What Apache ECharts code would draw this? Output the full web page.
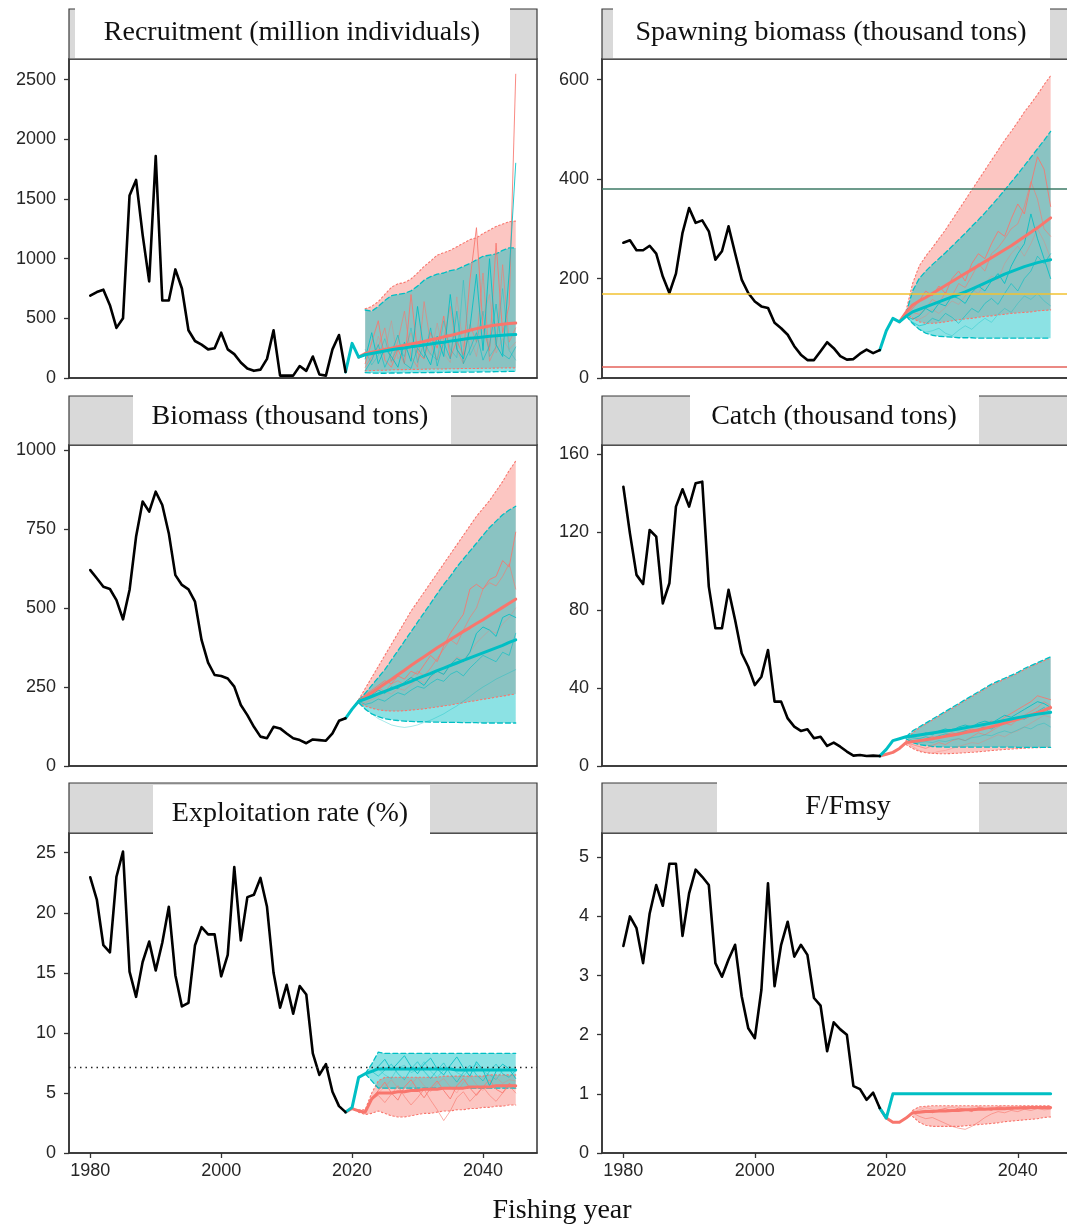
<!DOCTYPE html>
<html>
<head>
<meta charset="utf-8">
<script src="https://cdn.jsdelivr.net/npm/echarts@6/dist/echarts.min.js"></script>
<style>
html, body { margin: 0; padding: 0; background: #fff; }
#chart { width: 1067px; height: 1229px; }
</style>
</head>
<body>
<div id="chart"></div>
<script>
// ---------------- data ----------------
const histStart = 1980;
const xTicks = [1980, 2000, 2020, 2040];

// Recruitment (million individuals)
const recTicks = [0, 500, 1000, 1500, 2000, 2500];
const recHist = [690, 720, 740, 610, 420, 500, 1530, 1660, 1200, 810,
                 1860, 650, 650, 910, 750, 400, 310, 280, 240, 250,
                 380, 240, 200, 130, 80, 60, 70, 160, 400, 20,
                 20, 20, 100, 60, 180, 30, 20, 240, 360, 50];
const recTealMed = [50, 290, 175, 195, 205, 215, 226, 236, 245, 252, 261, 268, 277, 285, 293, 300, 309, 317, 325, 333, 338, 344, 350, 355, 358, 362, 364]; // 2019-
const recRedMed = [175, 205, 216, 226, 240, 250, 262, 274, 285, 296, 306, 320, 331, 345, 356, 370, 385, 400, 414, 425, 435, 444, 450, 456, 460]; // 2021-
const recRedHi = [580, 600, 640, 700, 760, 790, 800, 830, 880, 935, 980, 1030, 1050, 1070, 1100, 1130, 1160, 1175, 1210, 1240, 1270, 1290, 1310, 1315]; // 2022-
const recRedLo = [60, 62, 65, 65, 68, 70, 70, 72, 72, 74, 75, 75, 76, 78, 78, 80, 80, 80, 82, 82, 83, 84, 85, 85];
const recTealHi = [570, 560, 600, 650, 690, 700, 710, 730, 770, 820, 850, 870, 880, 900, 910, 935, 960, 990, 1020, 1030, 1040, 1070, 1090, 1090];
const recTealLo = [45, 42, 40, 40, 42, 42, 43, 44, 45, 45, 46, 46, 47, 48, 48, 49, 50, 50, 52, 52, 53, 54, 55, 55];
const recRedRuns = [
  [120, 300, 480, 150, 90, 240, 120, 700, 210, 160, 380, 250, 520, 170, 310, 190, 820, 1260, 420, 230, 1130, 380, 610, 2546],
  [90, 180, 260, 420, 130, 310, 560, 180, 90, 640, 290, 150, 330, 600, 240, 120, 450, 300, 880, 140, 260, 950, 300, 420],
  [200, 140, 350, 220, 480, 160, 230, 380, 150, 270, 190, 460, 210, 130, 680, 260, 350, 180, 520, 700, 210, 330, 240, 300]
];
const recTealRuns = [
  [160, 380, 120, 250, 180, 90, 300, 140, 600, 220, 110, 350, 180, 700, 240, 160, 420, 870, 230, 1000, 280, 180, 880, 1800],
  [60, 150, 280, 90, 210, 360, 120, 80, 250, 170, 420, 100, 300, 160, 560, 120, 240, 380, 150, 270, 620, 200, 160, 260],
  [240, 110, 190, 330, 140, 260, 180, 420, 130, 300, 200, 150, 480, 240, 170, 820, 190, 300, 560, 180, 260, 750, 230, 150]
];

// Spawning biomass (thousand tons)
const ssbTicks = [0, 200, 400, 600];
const ssbHist = [272, 277, 257, 257, 266, 250, 204, 171, 210, 292,
                 342, 312, 317, 295, 238, 255, 305, 251, 198, 171,
                 154, 144, 141, 111, 100, 87, 64, 47, 36, 36,
                 54, 72, 60, 44, 37, 38, 49, 57, 50, 56];
const ssbTealMed = [56, 95, 120, 113, 124, 133, 138, 143, 148, 153, 158, 163, 168, 173, 179, 185, 191, 197, 203, 209, 214, 219, 224, 228, 232, 235, 238]; // 2019-
const ssbRedMed = [113, 132, 147, 155, 162, 170, 178, 186, 194, 202, 210, 218, 226, 234, 242, 250, 258, 266, 275, 284, 293, 302, 312, 322]; // 2022-
const ssbRedHi = [135, 190, 225, 245, 262, 280, 298, 318, 338, 358, 378, 398, 418, 438, 458, 478, 496, 515, 535, 552, 570, 590, 608]; // 2023-
const ssbRedLo = [130, 120, 113, 110, 110, 111, 113, 115, 117, 119, 120, 122, 124, 125, 127, 128, 130, 131, 132, 133, 135, 136, 137];
const ssbTealHi = [130, 175, 200, 215, 228, 240, 252, 265, 278, 291, 305, 318, 332, 347, 362, 378, 394, 410, 427, 444, 461, 478, 496];
const ssbTealLo = [125, 110, 98, 90, 86, 84, 83, 82, 81, 81, 81, 80, 80, 80, 80, 80, 80, 80, 80, 80, 80, 80, 80];
const ssbRedRuns = [
  [125, 140, 155, 175, 165, 185, 170, 200, 215, 195, 230, 250, 240, 270, 295, 285, 320, 350, 330, 390, 445, 420, 345],
  [125, 132, 128, 140, 158, 150, 172, 165, 190, 182, 205, 230, 215, 250, 262, 280, 300, 310, 345, 395, 360, 300, 285],
  [125, 120, 118, 125, 138, 130, 142, 155, 148, 165, 178, 170, 190, 205, 198, 230, 250, 265, 245, 270, 300, 275, 240]
];
const ssbTealRuns = [
  [125, 118, 125, 140, 132, 150, 145, 165, 160, 150, 172, 185, 175, 195, 210, 190, 225, 250, 270, 330, 280, 240, 200],
  [125, 112, 105, 108, 120, 115, 130, 122, 110, 125, 140, 132, 150, 160, 148, 170, 190, 175, 200, 215, 245, 230, 250],
  [125, 108, 98, 92, 95, 100, 90, 85, 96, 105, 98, 110, 120, 112, 128, 140, 132, 150, 165, 158, 170, 155, 145]
];
const ssbRefLines = [380, 170, 23];

// Biomass (thousand tons)
const bioTicks = [0, 250, 500, 750, 1000];
const bioHist = [620, 594, 567, 560, 525, 464, 557, 726, 837, 805,
                 868, 826, 736, 604, 573, 559, 520, 399, 327, 288,
                 285, 277, 251, 193, 161, 124, 93, 88, 124, 119,
                 103, 88, 82, 72, 84, 82, 80, 103, 143, 151];
const bioTealMed = [151, 180, 205, 212, 220, 228, 236, 244, 252, 260, 268, 277, 285, 293, 302, 310, 318, 326, 334, 342, 350, 358, 366, 374, 382, 391, 399]; // 2019-
const bioRedMed = [205, 218, 232, 246, 260, 274, 289, 303, 318, 332, 346, 360, 374, 387, 400, 413, 426, 438, 451, 463, 476, 489, 502, 515, 528]; // 2021-
const bioRedHi = [210, 245, 280, 315, 350, 385, 420, 455, 490, 520, 550, 580, 610, 640, 670, 700, 730, 760, 790, 815, 840, 870, 900, 935, 965]; // 2021-
const bioRedLo = [200, 190, 183, 178, 175, 174, 174, 175, 177, 179, 181, 184, 187, 190, 193, 197, 200, 204, 207, 211, 214, 218, 221, 225, 228];
const bioTealHi = [208, 230, 255, 280, 305, 335, 365, 395, 425, 455, 485, 515, 545, 575, 600, 630, 655, 680, 705, 730, 755, 775, 795, 810, 822];
const bioTealLo = [200, 180, 165, 156, 150, 146, 144, 142, 141, 140, 140, 139, 139, 138, 138, 138, 137, 137, 137, 136, 136, 136, 136, 136, 136];
const bioRedRuns = [
  [205, 225, 240, 255, 270, 260, 285, 275, 300, 290, 320, 350, 330, 380, 420, 450, 480, 560, 575, 560, 590, 600, 650, 630, 740],
  [205, 215, 230, 248, 235, 260, 270, 255, 280, 300, 285, 310, 340, 370, 400, 385, 430, 470, 500, 560, 580, 570, 600, 640, 560],
  [205, 200, 210, 220, 235, 228, 245, 240, 258, 275, 262, 280, 300, 290, 320, 345, 335, 360, 390, 410, 430, 420, 450, 470, 500]
];
const bioTealRuns = [
  [205, 210, 225, 240, 230, 250, 245, 265, 280, 270, 255, 285, 300, 290, 320, 340, 330, 360, 420, 440, 430, 410, 470, 480, 470],
  [205, 195, 200, 212, 205, 220, 232, 225, 240, 252, 246, 262, 275, 268, 290, 300, 285, 310, 330, 350, 340, 330, 360, 350, 420],
  [205, 182, 165, 150, 140, 130, 125, 122, 125, 130, 138, 145, 155, 165, 178, 190, 205, 220, 236, 250, 262, 275, 285, 295, 305]
];

// Catch (thousand tons)
const catTicks = [0, 40, 80, 120, 160];
const catHist = [143.2, 119.3, 98, 93.3, 121, 117.6, 83.4, 93.7, 133, 141.9,
                 133, 145, 145.8, 92, 70.6, 70.6, 90.3, 74.9, 57.8, 50.9,
                 41.5, 45.8, 59.5, 33, 33, 24.4, 20.2, 18, 18.8, 14.2,
                 15, 10.3, 12, 9.9, 7.4, 5.3, 5.6, 5.1, 5.3, 5.1];
const catTealMed = [5.1, 8.5, 13, 14, 15, 15.4, 15.9, 16.4, 16.9, 17.4, 17.9, 18.4, 19, 19.6, 20.2, 20.8, 21.4, 22, 22.7, 23.4, 24.1, 24.8, 25.4, 26, 26.6, 27.1, 27.5]; // 2019-
const catRedMed = [5.1, 6, 7, 9, 12, 12.5, 13, 13.5, 14, 14.6, 15.2, 15.8, 16.4, 17.1, 17.8, 18.5, 19.3, 20.1, 21, 22, 23, 24, 25, 26.2, 27.4, 28.6, 30]; // 2019-
const catTealHi = [15, 18, 20, 22, 24, 26, 28, 30, 32, 34, 36, 38, 40, 42, 43.5, 45, 46.5, 48, 50, 51.5, 53, 54.5, 56]; // 2023-
const catTealLo = [14, 12, 11, 10.5, 10, 9.8, 9.7, 9.7, 9.7, 9.7, 9.7, 9.7, 9.7, 9.7, 9.7, 9.7, 9.7, 9.6, 9.6, 9.6, 9.6, 9.6, 9.6];
const catRedHi = [13, 17, 19.5, 21.5, 23.5, 25.5, 27.5, 29.5, 31.5, 33.5, 35.5, 37.5, 39.5, 41.5, 43, 44.5, 46, 47.5, 49.5, 51, 52.5, 54, 55.5];
const catRedLo = [11, 9, 7.5, 6.8, 6.5, 6.3, 6.3, 6.4, 6.6, 6.8, 7, 7.3, 7.6, 7.9, 8.2, 8.5, 8.7, 8.9, 9.1, 9.3, 9.4, 9.5, 9.6];
const catRedRuns = [
  [12, 13, 12.5, 14, 15, 14, 16, 17, 16, 18, 19, 18, 21, 23, 22, 25, 27, 29, 31, 33, 36, 35, 34],
  [12, 11, 10, 9, 10.5, 12, 11, 13, 14, 13, 15, 17, 16, 18, 20, 22, 21, 24, 26, 28, 30, 33, 31],
  [12, 10, 8, 7, 6.5, 7.5, 8, 9, 10, 11, 12, 11.5, 13, 14.5, 16, 15, 17, 18, 20, 22, 24, 26, 25]
];
const catTealRuns = [
  [15, 16, 15.5, 17, 16, 18, 19, 18, 20, 21, 20, 22, 23, 22, 24, 26, 25, 27, 29, 31, 33, 32, 30],
  [15, 14.5, 14, 15, 14, 15.5, 16.5, 16, 17, 18, 17.5, 19, 20, 19, 21, 22, 23, 25, 24, 26, 28, 30, 27],
  [15, 13, 12, 12.5, 12, 13, 12.5, 13.5, 14, 13, 14.5, 15, 16, 15.5, 17, 18, 17, 18.5, 20, 19, 21, 22, 20]
];

// Exploitation rate (%)
const expTicks = [0, 5, 10, 15, 20, 25];
const expHist = [22.95, 21.1, 17.3, 16.7, 23, 25.1, 15.1, 13, 15.9, 17.6,
                 15.2, 17.5, 20.5, 14.8, 12.2, 12.5, 17.3, 18.8, 18.2, 18.2,
                 14.7, 16.5, 23.8, 17.7, 21.3, 21.5, 22.9, 20.5, 15, 12.1,
                 14, 11.6, 13.9, 13.2, 8.3, 6.5, 7.4, 5.1, 3.9, 3.4];
const expTealMed = [3.4, 3.8, 6.3, 6.6, 6.8, 7.0, 7.0, 7.0, 7.0, 7.0, 7.0, 7.0, 7.0, 7.0, 7.0, 7.0, 7.0, 6.9, 6.9, 6.9, 6.9, 6.9, 6.9, 6.9, 6.9, 6.9, 6.9]; // 2019-
const expRedMed = [3.4, 3.7, 3.5, 3.4, 4.5, 5.0, 5.0, 5.0, 5.1, 5.1, 5.2, 5.2, 5.3, 5.3, 5.3, 5.4, 5.4, 5.4, 5.4, 5.5, 5.5, 5.5, 5.5, 5.6, 5.6, 5.6, 5.6]; // 2019-
const expTealHi = [6.6, 7.4, 8.4, 8.3, 8.3, 8.3, 8.3, 8.3, 8.3, 8.3, 8.3, 8.3, 8.3, 8.3, 8.3, 8.3, 8.3, 8.3, 8.3, 8.3, 8.3, 8.3, 8.3, 8.3]; // 2022-
const expTealLo = [6.6, 6.0, 5.4, 5.4, 5.4, 5.4, 5.4, 5.4, 5.4, 5.4, 5.4, 5.4, 5.4, 5.4, 5.4, 5.4, 5.4, 5.4, 5.4, 5.4, 5.4, 5.4, 5.4, 5.4];
const expRedHi = [3.6, 3.6, 5.0, 6.0, 6.3, 6.3, 6.3, 6.3, 6.3, 6.3, 6.3, 6.3, 6.3, 6.4, 6.4, 6.4, 6.4, 6.4, 6.4, 6.4, 6.5, 6.5, 6.5, 6.5, 6.5]; // 2021-
const expRedLo = [3.4, 3.2, 3.3, 3.5, 3.3, 3.1, 3.0, 3.0, 3.1, 3.2, 3.3, 3.3, 3.4, 3.5, 3.5, 3.6, 3.6, 3.7, 3.7, 3.8, 3.8, 3.9, 3.9, 4.0, 4.0];
const expRedRuns = [
  [4.5, 5.2, 5.9, 5.0, 4.4, 5.5, 6.1, 5.3, 4.6, 5.4, 6.0, 5.2, 4.5, 5.6, 6.2, 5.4, 4.8, 5.5, 6.1, 5.3, 5.0, 5.8, 5.4],
  [4.5, 4.8, 4.2, 4.9, 5.6, 4.7, 4.0, 4.6, 5.3, 4.4, 3.6, 2.7, 3.5, 4.6, 5.1, 4.3, 4.9, 5.5, 4.8, 4.3, 5.0, 5.6, 5.0],
  [4.5, 5.0, 5.5, 6.1, 5.4, 5.0, 5.7, 6.3, 5.6, 5.1, 5.8, 6.2, 5.5, 5.0, 5.9, 6.4, 5.7, 5.2, 5.9, 6.3, 5.8, 6.1, 6.0]
];
const expTealRuns = [
  [6.8, 7.2, 7.8, 6.9, 7.5, 8.1, 7.2, 6.6, 7.4, 7.9, 7.0, 6.5, 7.3, 8.0, 7.1, 6.4, 7.6, 6.9, 5.6, 6.8, 7.4, 7.0, 6.2],
  [6.8, 6.4, 6.9, 7.4, 6.6, 6.1, 7.0, 7.6, 6.8, 6.2, 6.9, 7.5, 6.6, 5.9, 6.7, 7.3, 6.5, 6.0, 6.8, 7.4, 6.6, 6.3, 6.9],
  [6.8, 7.0, 6.5, 6.2, 7.1, 7.3, 6.7, 6.9, 7.6, 6.8, 6.3, 6.9, 7.2, 6.7, 6.4, 7.0, 7.4, 6.8, 6.5, 6.1, 6.9, 7.2, 6.8]
];
const expRefLine = 7.15;

// F/Fmsy
const fTicks = [0, 1, 2, 3, 4, 5];
const fHist = [3.5, 4.0, 3.8, 3.21, 4.05, 4.53, 4.18, 4.89, 4.89, 3.67,
               4.39, 4.79, 4.67, 4.53, 3.21, 2.98, 3.27, 3.52, 2.65, 2.11,
               1.94, 2.76, 4.56, 2.82, 3.52, 3.91, 3.32, 3.52, 3.35, 2.62,
               2.49, 1.72, 2.21, 2.09, 2.0, 1.13, 1.08, 0.9, 1.02, 0.76];
const fTealMed = [0.76, 0.59, 1.0, 1.0, 1.0, 1.0, 1.0, 1.0, 1.0, 1.0, 1.0, 1.0, 1.0, 1.0, 1.0, 1.0, 1.0, 1.0, 1.0, 1.0, 1.0, 1.0, 1.0, 1.0, 1.0, 1.0, 1.0]; // 2019-
const fRedMed = [0.76, 0.59, 0.52, 0.52, 0.59, 0.68, 0.69, 0.7, 0.7, 0.71, 0.71, 0.72, 0.72, 0.73, 0.73, 0.74, 0.74, 0.75, 0.75, 0.75, 0.76, 0.76, 0.76, 0.77, 0.77, 0.77, 0.77]; // 2019-
const fRedHi = [0.72, 0.78, 0.79, 0.8, 0.8, 0.8, 0.8, 0.8, 0.8, 0.8, 0.8, 0.8, 0.8, 0.8, 0.8, 0.8, 0.8, 0.8, 0.8, 0.8, 0.8, 0.8]; // 2024-
const fRedLo = [0.62, 0.52, 0.47, 0.45, 0.45, 0.45, 0.45, 0.45, 0.46, 0.47, 0.48, 0.49, 0.5, 0.51, 0.53, 0.54, 0.55, 0.56, 0.57, 0.58, 0.6, 0.61];
const fRedRuns = [
  [0.68, 0.7, 0.72, 0.68, 0.73, 0.75, 0.71, 0.76, 0.74, 0.7, 0.77, 0.75, 0.72, 0.78, 0.76, 0.73, 0.77, 0.79, 0.75, 0.78, 0.77, 0.76],
  [0.68, 0.62, 0.58, 0.6, 0.55, 0.5, 0.45, 0.42, 0.4, 0.45, 0.52, 0.6, 0.66, 0.7, 0.68, 0.72, 0.7, 0.74, 0.72, 0.75, 0.73, 0.74],
  [0.68, 0.73, 0.77, 0.74, 0.7, 0.76, 0.78, 0.74, 0.72, 0.77, 0.79, 0.75, 0.73, 0.78, 0.8, 0.76, 0.74, 0.78, 0.79, 0.77, 0.75, 0.78]
];

const panelTitles = ['Recruitment (million individuals)', 'Spawning biomass (thousand tons)',
                     'Biomass (thousand tons)', 'Catch (thousand tons)',
                     'Exploitation rate (%)', 'F/Fmsy'];
const xAxisTitle = 'Fishing year';

// ---------------- styling / layout ----------------
const RED = '#F8766D';
const TEAL = '#00BFC4';
const RED_FILL = 'rgba(248,118,109,0.42)';
const TEAL_FILL = 'rgba(0,191,196,0.45)';
const RUN_OPACITY = [0.85, 0.6, 0.35];
const X_MIN = 1976.75, X_MAX = 2048.25;
const AXIS_COLOR = '#333';
const TICK_FONT = { fontSize: 18, fontFamily: 'Liberation Sans', color: '#262626' };

const gridBoxes = [
  { left: 69, top: 59, width: 468, height: 319 },
  { left: 602, top: 59, width: 470, height: 319 },
  { left: 69, top: 445, width: 468, height: 321 },
  { left: 602, top: 445, width: 470, height: 321 },
  { left: 69, top: 833, width: 468, height: 320 },
  { left: 602, top: 833, width: 470, height: 320 }
];
const yMax = [2673.5, 641.6, 1015.8, 164.6, 26.64, 5.41];
const yTickSets = [recTicks, ssbTicks, bioTicks, catTicks, expTicks, fTicks];

const stripBoxes = [
  { x: 69, y: 9, w: 468, h: 50 }, { x: 602, y: 9, w: 470, h: 50 },
  { x: 69, y: 396, w: 468, h: 49 }, { x: 602, y: 396, w: 470, h: 49 },
  { x: 69, y: 783, w: 468, h: 50 }, { x: 602, y: 783, w: 470, h: 50 }
];
const labelBoxes = [
  { x: 75, y: 7, w: 435, h: 51 }, { x: 613, y: 7, w: 437, h: 51 },
  { x: 133, y: 394, w: 318, h: 50 }, { x: 690, y: 394, w: 289, h: 50 },
  { x: 153, y: 785, w: 277, h: 50 }, { x: 717, y: 782, w: 262, h: 50 }
];
const labelCenters = [[292, 33], [831, 33], [290, 417], [834, 417], [290, 814], [848, 807]];

// ---------------- helpers ----------------
function pairs(start, vals) { return vals.map((v, i) => [start + i, v]); }
function plainNumber(v) { return String(v); }

function lineSeries(idx, data, style, z) {
  return {
    type: 'line', xAxisIndex: idx, yAxisIndex: idx, data: data,
    symbol: 'none', silent: true, animation: false, z: z || 2,
    lineStyle: Object.assign({ cap: 'round', join: 'round' }, style)
  };
}

function bandSeries(idx, start, lo, hi, fill) {
  const rows = lo.map((v, i) => [start + i, v, hi[i]]);
  return {
    type: 'custom', xAxisIndex: idx, yAxisIndex: idx, data: rows,
    encode: { x: 0, y: [1, 2] }, silent: true, animation: false, clip: true,
    renderItem: function (params, api) {
      if (params.dataIndex !== 0) return null;
      const top = rows.map(r => api.coord([r[0], r[2]]));
      const bottom = rows.map(r => api.coord([r[0], r[1]])).reverse();
      return { type: 'polygon', shape: { points: top.concat(bottom) }, style: { fill: fill } };
    }
  };
}

function buildPanel(idx, d) {
  const out = [];
  if (d.refs) {
    out.push({
      type: 'line', xAxisIndex: idx, yAxisIndex: idx, data: [], silent: true, animation: false,
      markLine: { silent: true, symbol: 'none', animation: false, label: { show: false },
        data: d.refs.map(r => ({ yAxis: r.value, lineStyle: r.style })) }
    });
  }
  if (d.redBand) {
    const b = d.redBand;
    out.push(bandSeries(idx, b.start, b.lo, b.hi, RED_FILL));
    out.push(lineSeries(idx, pairs(b.start, b.lo), { color: RED, width: 1.1, type: [1.5, 2.5] }));
    out.push(lineSeries(idx, pairs(b.start, b.hi), { color: RED, width: 1.1, type: [1.5, 2.5] }));
  }
  if (d.tealBand) {
    const b = d.tealBand;
    out.push(bandSeries(idx, b.start, b.lo, b.hi, TEAL_FILL));
    out.push(lineSeries(idx, pairs(b.start, b.lo), { color: TEAL, width: 1.3, type: [5, 3] }));
    out.push(lineSeries(idx, pairs(b.start, b.hi), { color: TEAL, width: 1.3, type: [5, 3] }));
  }
  (d.redRuns || []).forEach((run, k) => {
    out.push(lineSeries(idx, pairs(d.runStart, run), { color: RED, width: 1, opacity: RUN_OPACITY[k] }));
  });
  (d.tealRuns || []).forEach((run, k) => {
    out.push(lineSeries(idx, pairs(d.runStart, run), { color: TEAL, width: 1, opacity: RUN_OPACITY[k] }));
  });
  out.push(lineSeries(idx, pairs(d.redMed.start, d.redMed.vals), { color: RED, width: 3 }));
  out.push(lineSeries(idx, pairs(d.tealMed.start, d.tealMed.vals), { color: TEAL, width: 3 }));
  out.push(lineSeries(idx, pairs(histStart, d.hist), { color: '#000', width: 2.6 }));
  return out;
}

// ---------------- panels ----------------
const panelData = [
  { hist: recHist, tealMed: { start: 2019, vals: recTealMed }, redMed: { start: 2021, vals: recRedMed },
    redBand: { start: 2022, lo: recRedLo, hi: recRedHi }, tealBand: { start: 2022, lo: recTealLo, hi: recTealHi },
    runStart: 2022, redRuns: recRedRuns, tealRuns: recTealRuns },
  { hist: ssbHist, tealMed: { start: 2019, vals: ssbTealMed }, redMed: { start: 2022, vals: ssbRedMed },
    redBand: { start: 2023, lo: ssbRedLo, hi: ssbRedHi }, tealBand: { start: 2023, lo: ssbTealLo, hi: ssbTealHi },
    runStart: 2023, redRuns: ssbRedRuns, tealRuns: ssbTealRuns,
    refs: [
      { value: ssbRefLines[0], style: { color: '#3C7A66', width: 1.5, type: 'solid' } },
      { value: ssbRefLines[1], style: { color: '#F2C230', width: 1.5, type: 'solid' } },
      { value: ssbRefLines[2], style: { color: '#E5625A', width: 1.5, type: 'solid' } }
    ] },
  { hist: bioHist, tealMed: { start: 2019, vals: bioTealMed }, redMed: { start: 2021, vals: bioRedMed },
    redBand: { start: 2021, lo: bioRedLo, hi: bioRedHi }, tealBand: { start: 2021, lo: bioTealLo, hi: bioTealHi },
    runStart: 2021, redRuns: bioRedRuns, tealRuns: bioTealRuns },
  { hist: catHist, tealMed: { start: 2019, vals: catTealMed }, redMed: { start: 2019, vals: catRedMed },
    redBand: { start: 2023, lo: catRedLo, hi: catRedHi }, tealBand: { start: 2023, lo: catTealLo, hi: catTealHi },
    runStart: 2023, redRuns: catRedRuns, tealRuns: catTealRuns },
  { hist: expHist, tealMed: { start: 2019, vals: expTealMed }, redMed: { start: 2019, vals: expRedMed },
    redBand: { start: 2021, lo: expRedLo, hi: expRedHi }, tealBand: { start: 2022, lo: expTealLo, hi: expTealHi },
    runStart: 2023, redRuns: expRedRuns, tealRuns: expTealRuns,
    refs: [ { value: expRefLine, style: { color: '#222', width: 1.3, type: [1.5, 4] } } ] },
  { hist: fHist, tealMed: { start: 2019, vals: fTealMed }, redMed: { start: 2019, vals: fRedMed },
    redBand: { start: 2024, lo: fRedLo, hi: fRedHi },
    runStart: 2024, redRuns: fRedRuns, tealRuns: [] }
];

// ---------------- option ----------------
const grids = gridBoxes.map(g => Object.assign({
  show: true, backgroundColor: '#fff', borderColor: AXIS_COLOR, borderWidth: 1.5,
  outerBoundsMode: 'none', containLabel: false
}, g));

const xAxes = gridBoxes.map((g, i) => {
  const bottomRow = i >= 4;
  return {
    type: 'value', gridIndex: i, min: X_MIN, max: X_MAX,
    splitLine: { show: false },
    axisLine: { show: true, lineStyle: { color: AXIS_COLOR, width: 1.5 } },
    axisTick: { show: bottomRow, length: 5, customValues: xTicks, lineStyle: { color: AXIS_COLOR, width: 1.3 } },
    axisLabel: Object.assign({ show: bottomRow, customValues: xTicks, margin: 9, formatter: plainNumber }, TICK_FONT)
  };
});

const yAxes = gridBoxes.map((g, i) => ({
  type: 'value', gridIndex: i, min: 0, max: yMax[i],
  splitLine: { show: false },
  axisLine: { show: true, lineStyle: { color: AXIS_COLOR, width: 1.5 } },
  axisTick: { show: true, length: 5, customValues: yTickSets[i], lineStyle: { color: AXIS_COLOR, width: 1.3 } },
  axisLabel: Object.assign({ show: true, customValues: yTickSets[i], margin: 13, formatter: plainNumber }, TICK_FONT)
}));

let series = [];
panelData.forEach((d, i) => { series = series.concat(buildPanel(i, d)); });

const graphics = [];
stripBoxes.forEach((s, i) => {
  graphics.push({ type: 'rect', z: 100, silent: true,
    shape: { x: s.x, y: s.y, width: s.w, height: s.h },
    style: { fill: '#D9D9D9', stroke: '#3a3a3a', lineWidth: 1.2 } });
  const w = labelBoxes[i];
  graphics.push({ type: 'rect', z: 101, silent: true,
    shape: { x: w.x, y: w.y, width: w.w, height: w.h },
    style: { fill: '#fff' } });
  graphics.push({ type: 'text', z: 102, silent: true,
    x: labelCenters[i][0], y: labelCenters[i][1],
    style: { text: panelTitles[i], font: '28px "Liberation Serif"', fill: '#111',
      align: 'center', verticalAlign: 'middle', textAlign: 'center', textVerticalAlign: 'middle' } });
});
graphics.push({ type: 'text', z: 102, silent: true, x: 562, y: 1211,
  style: { text: xAxisTitle, font: '28px "Liberation Serif"', fill: '#111',
    align: 'center', verticalAlign: 'middle', textAlign: 'center', textVerticalAlign: 'middle' } });

const option = {
  animation: false,
  backgroundColor: '#fff',
  grid: grids,
  xAxis: xAxes,
  yAxis: yAxes,
  series: series,
  graphic: { elements: graphics }
};

const chart = echarts.init(document.getElementById('chart'));
chart.setOption(option);
</script>
</body>
</html>
